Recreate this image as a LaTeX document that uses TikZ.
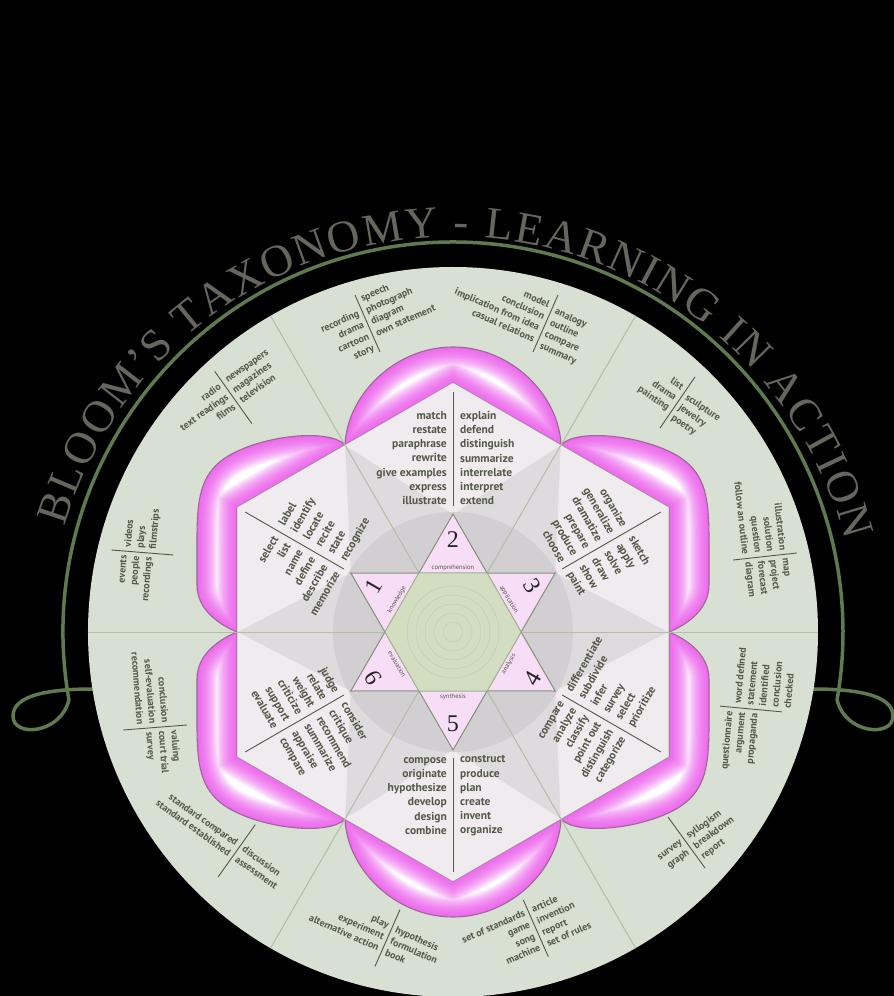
\documentclass[tikz,border=0pt]{standalone}
\usepackage{fontspec}
\setmainfont{PT Sans}
\newfontfamily\titlefont{Liberation Serif}
\usetikzlibrary{decorations.text}

\definecolor{circfill}{HTML}{D8DFD3}
\definecolor{sepgreen}{HTML}{B3BDA8}
\definecolor{textgray}{HTML}{535848}
\definecolor{titlegray}{HTML}{66665F}
\definecolor{arcgreen}{HTML}{5F7A4F}
\definecolor{hexgray}{HTML}{DDDBDD}
\definecolor{kitelight}{HTML}{EFEBEF}
\definecolor{diskgray}{HTML}{D1CFD1}
\definecolor{hexedge}{HTML}{A6B39A}
\definecolor{petaledge}{HTML}{9C6896}
\definecolor{petalglow}{HTML}{EE50EE}
\definecolor{starfill}{HTML}{F7DDF5}
\definecolor{centergreen}{HTML}{D2DEBF}

% words in a hexagon panel: id, angle, rotation, radius, left, right
\newcommand{\panelwords}[6]{%
  \begin{scope}[shift={(#2:#4)}, rotate=#3, transform shape]
    \node[paneltext, anchor=east, align=right] (#1l) at (-6,0) {#5};
    \node[paneltext, anchor=west, align=left] (#1r) at (7,0) {#6};
  \end{scope}}

% words in the outer ring: id, origin, rotation, half length, left, shift, right, shift
\newcommand{\outergroup}[8]{%
  \begin{scope}[shift={(#2)}, rotate=#3, transform shape]
    \draw[divline] (0,#4) -- (0,-#4);
    \node[outertext, anchor=east, align=right] (#1l) at (-4,#6) {#5};
    \node[outertext, anchor=west, align=left] (#1r) at (4,#8) {#7};
  \end{scope}}

% pink petal with inner glow
\newcommand{\drawpetal}[1]{%
  \begin{scope}
    \clip #1;
    \fill[white] #1;
    \foreach \i in {1,...,16}
      \draw[petalglow, line width=2.6*\i, opacity=0.1] #1;
  \end{scope}
  \draw[petaledge, line width=1.1] #1;}

\begin{document}
\begin{tikzpicture}[x=1pt, y=1pt,
    divline/.style={draw=textgray, line width=0.9},
    sepline/.style={draw=sepgreen, line width=1},
    paneltext/.style={text=textgray, inner sep=0pt, font=\bfseries\fontsize{11.5}{14.2}\selectfont},
    outertext/.style={text=textgray, inner sep=0pt, font=\bfseries\fontsize{10}{12.5}\selectfont},
    numtext/.style={text=black!85, inner sep=0pt, font=\titlefont\fontsize{24}{24}\selectfont},
    leveltext/.style={text=textgray, inner sep=0pt, font=\fontsize{6.5}{7}\selectfont}]

\useasboundingbox (-453,-364) rectangle (441,632);
\fill[black] (-453,-364) rectangle (441,632);

% title
\path[decorate, decoration={text along path, text align=fit to path,
    text={|\titlefont\fontsize{45}{45}\selectfont\color{titlegray}|BLOOM’S TAXONOMY - LEARNING IN ACTION}}]
  (0,-10) ++(163.5:405) arc[start angle=163.5, end angle=14.5, radius=405];

% green arc with curls
\draw[arcgreen, line width=3.5] (-360,-57) .. controls (-400,-57) and (-440,-62) .. (-440,-84)
  .. controls (-440,-106) and (-392,-102) .. (190:390)
  arc[start angle=190, end angle=-10, radius=390]
  .. controls (392,-102) and (440,-106) .. (440,-84)
  .. controls (440,-62) and (400,-57) .. (360,-57);

% outer ring
\fill[circfill] (0,0) circle (365);

\outergroup{ga}{-85.5,308.5}{23.7}{31}{recording\\drama\\cartoon\\story}{-6.5}{speech\\photograph\\diagram\\own statement}{6.5}
\outergroup{gb}{92.5,308.5}{-23.7}{31}{model\\conclusion\\implication from idea\\casual relations}{0}{analogy\\outline\\compare\\summary}{-4}
\outergroup{gc}{224.5,229.5}{-34.4}{31}{list\\drama\\painting}{2}{sculpture\\jewelry\\poetry}{-3}
\outergroup{gd}{312,75.5}{-83.7}{32}{illustration\\solution\\question\\follow an outline}{0}{map\\project\\forecast\\diagram}{0}
\outergroup{ge}{298,-77}{84.7}{31}{questionnaire\\argument\\propaganda}{8}{word defined\\statement\\identified\\conclusion\\checked}{-11}
\outergroup{gf}{233.5,-210.5}{36}{31.5}{survey\\graph}{-3.6}{syllogism\\breakdown\\report}{-8.6}
\outergroup{gg}{-65.5,-306}{-23.8}{31}{play\\experiment\\alternative action}{0}{hypothesis\\formulation\\book}{-1}
\outergroup{gh}{82.8,-296.3}{23.8}{31}{set of standards\\game\\song\\machine}{0}{article\\invention\\report\\set of rules}{0}
\outergroup{gi}{-298,-95.5}{-85.5}{32}{conclusion\\self-evaluation\\recommendation}{-1.7}{valuing\\court trial\\survey}{6}
\outergroup{gj}{-216.3,-218.8}{-35.4}{32}{standard compared\\standard established}{0}{discussion\\assessment}{0}
\outergroup{gk}{-219.7,234.5}{35.4}{32}{radio\\text readings\\films}{5}{newspapers\\magazines\\television}{5}
\outergroup{gl}{-310.5,79.5}{85.4}{31}{events\\people\\recordings}{5}{videos\\plays\\filmstrips}{2}

% petals
\drawpetal{(-108,187) .. controls (-106,237) and (-58,285) .. (0,285) .. controls (58,285) and (106,237) .. (108,187) -- (0,249) -- cycle}
\begin{scope}[yscale=-1]
  \drawpetal{(-108,187) .. controls (-106,237) and (-58,285) .. (0,285) .. controls (58,285) and (106,237) .. (108,187) -- (0,249) -- cycle}
\end{scope}
\foreach \sx/\sy in {1/1,-1/1,1/-1,-1/-1}{
  \begin{scope}[xscale=\sx, yscale=\sy]
    \drawpetal{(-108,187) .. controls (-123,204) and (-193,197) .. (-228,174) .. controls (-253,157) and (-256,132) .. (-256,92) -- (-256,47) .. controls (-256,22) and (-233,7) .. (-216,0) -- (-216,124.5) -- cycle}
  \end{scope}}

% hexagon with panels
\filldraw[fill=hexgray, draw=hexedge, line width=1] (90:249) -- (30:249) -- (-30:249) -- (-90:249) -- (-150:249) -- (150:249) -- cycle;
\foreach \a in {90,30,-30,-90,-150,150}
  \fill[kitelight] (\a:249) -- (\a+30:215.6) -- (\a:118) -- (\a-30:215.6) -- cycle;
\fill[diskgray] (0,0) circle (120);

% sector lines
\foreach \a in {0,60,...,300}
  \draw[sepline] (\a:68.1) -- (\a:365);

% panel dividers and words
\foreach \a in {90,30,-30,-90,-150,150}
  \draw[divline] (\a:240) -- (\a:126);
\panelwords{pb}{90}{0}{174}{match\\restate\\paraphrase\\rewrite\\give examples\\express\\illustrate}{explain\\defend\\distinguish\\summarize\\interrelate\\interpret\\extend}
\panelwords{pa}{150}{60}{166}{select\\list\\name\\define\\describe\\memorize}{label\\identify\\locate\\recite\\state\\recognize}
\panelwords{pc}{30}{-60}{166}{organize\\generalize\\dramatize\\prepare\\produce\\choose}{sketch\\apply\\solve\\draw\\show\\paint}
\panelwords{pd}{-30}{60}{166}{compare\\analyze\\classify\\point out\\distinguish\\categorize}{differentiate\\subdivide\\infer\\survey\\select\\prioritize}
\panelwords{pe}{-90}{0}{164}{compose\\originate\\hypothesize\\develop\\design\\combine}{construct\\produce\\plan\\create\\invent\\organize}
\panelwords{pf}{-150}{-60}{166}{judge\\relate\\weight\\criticize\\support\\evaluate}{consider\\critique\\recommend\\summarize\\appraise\\compare}

% star in the middle
\foreach \a in {90,30,-30,-90,-150,150}
  \filldraw[fill=starfill, draw=hexedge!80!black, line width=1] (\a:118) -- (\a-30:68.1) -- (\a+30:68.1) -- cycle;
\filldraw[fill=centergreen, draw=hexedge, line width=0.8] (0:68.1) -- (60:68.1) -- (120:68.1) -- (180:68.1) -- (240:68.1) -- (300:68.1) -- cycle;
\foreach \r in {10,19,28,37,46}
  \draw[hexedge!70, line width=0.5] (0,0) circle (\r);

\node[numtext, rotate=60] (n1) at (150:92) {1};
\node[numtext] (n2) at (90:92) {2};
\node[numtext, rotate=-60] (n3) at (30:92) {3};
\node[numtext, rotate=60] (n4) at (-30:92) {4};
\node[numtext] (n5) at (-90:92) {5};
\node[numtext, rotate=-60] (n6) at (-150:92) {6};

\node[leveltext, rotate=60] (l1) at (150:64.5) {knowledge};
\node[leveltext] (l2) at (90:64.5) {comprehension};
\node[leveltext, rotate=-60] (l3) at (30:64.5) {application};
\node[leveltext, rotate=60] (l4) at (-30:64.5) {analysis};
\node[leveltext] (l5) at (-90:64.5) {synthesis};
\node[leveltext, rotate=-60] (l6) at (-150:64.5) {evaluation};

\end{tikzpicture}
\end{document}
